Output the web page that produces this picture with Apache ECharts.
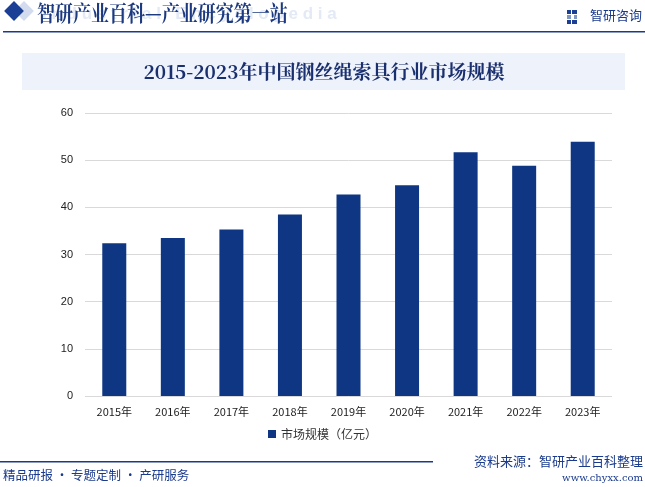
<!DOCTYPE html>
<html><head><meta charset="utf-8">
<script src="https://cdn.jsdelivr.net/npm/echarts@6/dist/echarts.min.js"></script>
<style>html,body{margin:0;padding:0;background:#fff}#c{width:645px;height:487px}</style>
</head><body><div id="c"></div>
<script>
const categories = ['2015年','2016年','2017年','2018年','2019年','2020年','2021年','2022年','2023年'];
const marketSize = [32.4, 33.5, 35.3, 38.5, 42.7, 44.7, 51.7, 48.8, 53.9];
const seriesName = '市场规模（亿元）';
const chartTitle = '2015-2023年中国钢丝绳索具行业市场规模';

const chart = echarts.init(document.getElementById('c'));
chart.setOption({
  animation: false,
  backgroundColor: '#fff',
  grid: {left: 85, right: 33, top: 113, bottom: 91},
  legend: {
    data: [seriesName], bottom: 42, left: 'center',
    itemWidth: 8, itemHeight: 8, itemGap: 4, icon: 'rect',
    textStyle: {fontSize: 12, color: '#333', fontFamily: 'Noto Sans CJK SC'}
  },
  xAxis: {
    type: 'category', data: categories,
    axisLine: {show: false}, axisTick: {show: false},
    axisLabel: {fontSize: 11, color: '#222', margin: 10, fontFamily: 'Noto Sans CJK SC'}
  },
  yAxis: {
    type: 'value', min: 0, max: 60, interval: 10,
    axisLine: {show: false}, axisTick: {show: false},
    axisLabel: {fontSize: 11, color: '#222', margin: 12, fontFamily: 'Liberation Sans'},
    splitLine: {lineStyle: {color: '#d9d9d9', width: 1}}
  },
  series: [{
    name: seriesName, type: 'bar', data: marketSize, barWidth: 24,
    itemStyle: {color: '#0e3682'}
  }],
  graphic: [
    // header
    {type: 'text', left: 42, top: 6, z: 1, style: {text: 'I n d u s t r i a l   E n c y c l o p e d i a', fill: '#e3eaf6', font: 'bold 17px "Liberation Sans"'}},
    {type: 'rect', shape: {x: 17, y: 4, width: 14, height: 14}, rotation: Math.PI/4, originX: 24, originY: 11, z: 2, style: {fill: '#d3dcee'}},
    {type: 'rect', shape: {x: 7, y: 4, width: 14, height: 14}, rotation: Math.PI/4, originX: 14, originY: 11, z: 3, style: {fill: '#1a3f94'}},
    {type: 'text', x: 37, y: 16, scaleY: 1.2, originX: 37, originY: 16, z: 4, style: {text: '智研产业百科—产业研究第一站', fill: '#1d3a80', font: 'bold 18px "Noto Serif CJK SC", "Noto Sans CJK SC", serif', verticalAlign: 'middle'}},
    {type: 'rect', shape: {x: 3, y: 31, width: 642, height: 1.5}, style: {fill: '#1a3a8c'}},
    // logo
    {type: 'rect', shape: {x: 567, y: 10, width: 4, height: 4}, style: {fill: '#1a3f94'}},
    {type: 'rect', shape: {x: 567, y: 15, width: 4, height: 4}, style: {fill: '#7f95c4'}},
    {type: 'rect', shape: {x: 567, y: 20, width: 4, height: 4}, style: {fill: '#1a3f94'}},
    {type: 'rect', shape: {x: 572, y: 10, width: 5, height: 4}, style: {fill: '#1a3f94'}},
    {type: 'rect', shape: {x: 572, y: 20, width: 5, height: 4}, style: {fill: '#1a3f94'}},
    {type: 'rect', shape: {x: 574, y: 15, width: 3, height: 4}, style: {fill: '#7f95c4'}},
    {type: 'text', right: 3, top: 9, style: {text: '智研咨询', fill: '#1a3a8c', font: '13px "Noto Sans CJK SC"'}},
    // title box
    {type: 'rect', shape: {x: 22, y: 53, width: 603, height: 37}, style: {fill: '#edf2fb'}},
    {type: 'text', x: 324, y: 72, style: {text: chartTitle, fill: '#1a2f6e', font: 'bold 19px "Noto Serif CJK SC", "Noto Sans CJK SC", serif', align: 'center', verticalAlign: 'middle'}},
    // footer
    {type: 'rect', shape: {x: 0, y: 461, width: 433, height: 1.5}, style: {fill: '#1a3a8c'}},
    {type: 'text', left: 3, top: 469, style: {text: '精品研报 · 专题定制 · 产研服务', fill: '#1a3a8c', font: '12.5px "Noto Sans CJK SC"'}},
    {type: 'text', right: 2, top: 455, style: {text: '资料来源：智研产业百科整理', fill: '#1a3a8c', font: '13px "Noto Sans CJK SC"'}},
    {type: 'text', right: 2, top: 473, style: {text: 'www.chyxx.com', fill: '#1a3a8c', font: '10px "DejaVu Serif", serif'}}
  ]
});
</script></body></html>
